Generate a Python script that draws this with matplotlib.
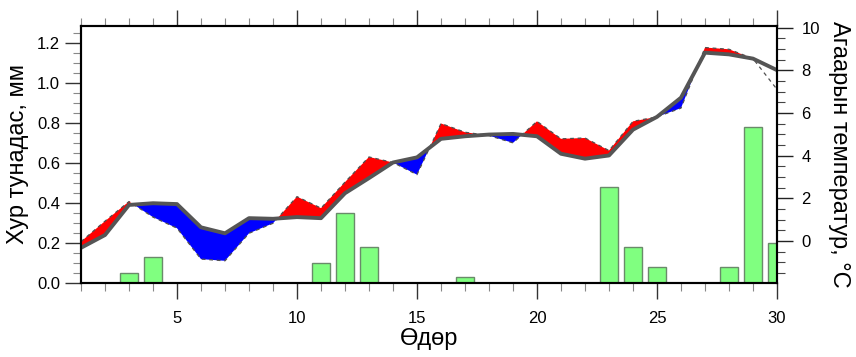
import numpy as np
import matplotlib
matplotlib.use("Agg")
import matplotlib.pyplot as plt
from matplotlib.ticker import MultipleLocator

plt.rcParams['font.family'] = ['Liberation Sans', 'DejaVu Sans']

# Daily data
days = list(range(1, 31))
precip = [0, 0, 0.05, 0.13, 0, 0, 0, 0, 0, 0,
          0.10, 0.35, 0.18, 0, 0, 0, 0.03, 0, 0, 0,
          0, 0, 0.48, 0.18, 0.08, 0, 0, 0.08, 0.78, 0.20]
temp_obs = [-0.03, 0.93, 1.85, 1.12, 0.60, -0.85, -0.93, 0.36, 0.83, 2.08,
            1.54, 2.76, 3.94, 3.68, 3.11, 5.51, 5.10, 4.94, 4.60, 5.61,
            4.79, 4.83, 4.24, 5.61, 5.82, 6.23, 9.07, 8.99, 8.55, 7.11]
temp_norm = [-0.32, 0.28, 1.69, 1.77, 1.73, 0.64, 0.36, 1.07, 1.04, 1.12,
             1.07, 2.24, 2.95, 3.68, 3.92, 4.79, 4.91, 4.99, 5.02, 4.91,
             4.09, 3.86, 4.01, 5.22, 5.82, 6.72, 8.83, 8.75, 8.55, 8.01]
n_fill = 29  # anomaly shading stops at day 29

x = np.array(days)
t_obs = np.array(temp_obs)
t_norm = np.array(temp_norm)

fig = plt.figure(figsize=(8.56, 3.57), dpi=100)
ax = fig.add_axes([81/856, 74/357, 696/856, 257/357])
ax2 = ax.twinx()

# precipitation bars (left axis)
ax.bar(x, precip, width=0.76, color='#80ff80', edgecolor='#6a8a6a', linewidth=1.0, zorder=2)
ax.set_xlim(1, 30)
ax.set_ylim(0, 1.283)
ax.set_ylabel("Хур тунадас, мм", fontsize=17, labelpad=6)
ax.set_xlabel("Өдөр", fontsize=17, labelpad=1)

# temperature (right axis)
xf = x[:n_fill]
ax2.fill_between(xf, t_obs[:n_fill], t_norm[:n_fill], where=t_obs[:n_fill] >= t_norm[:n_fill],
                 interpolate=True, color='red', linewidth=0)
ax2.fill_between(xf, t_obs[:n_fill], t_norm[:n_fill], where=t_obs[:n_fill] <= t_norm[:n_fill],
                 interpolate=True, color='blue', linewidth=0)
ax2.plot(x, t_obs, color='#505050', linewidth=0.9, linestyle=(0, (3, 3)))
ax2.plot(x, t_norm, color='#555555', linewidth=2.8, solid_joinstyle='round')
ax2.set_ylim(-1.97, 10.08)
ax2.set_ylabel("Агаарын температур, °C", fontsize=17, rotation=270, labelpad=22)

# ticks
ax.xaxis.set_major_locator(MultipleLocator(5))
ax.xaxis.set_minor_locator(MultipleLocator(1))
ax.yaxis.set_major_locator(MultipleLocator(0.2))
ax.yaxis.set_minor_locator(MultipleLocator(0.05))
ax.yaxis.set_major_formatter(matplotlib.ticker.FormatStrFormatter('%.1f'))
ax2.yaxis.set_major_locator(MultipleLocator(2))
ax2.yaxis.set_minor_locator(MultipleLocator(0.5))
ax2.set_yticks([0, 2, 4, 6, 8, 10])

ax.tick_params(axis='both', which='major', direction='out', length=11.5, width=1.0,
               color='#333333', labelsize=12, top=True)
ax.tick_params(axis='both', which='minor', direction='out', length=5.5, width=0.8,
               color='#888888', top=True)
ax.tick_params(axis='x', which='major', pad=9)
ax2.tick_params(axis='y', which='major', direction='out', length=11.5, width=1.0,
                color='#222222', labelsize=12, pad=6)
ax2.tick_params(axis='y', which='minor', direction='out', length=5.5, width=0.8,
                color='#444444')

for a in (ax, ax2):
    for s in a.spines.values():
        s.set_linewidth(1.5)

fig.savefig("out.png", dpi=100)
